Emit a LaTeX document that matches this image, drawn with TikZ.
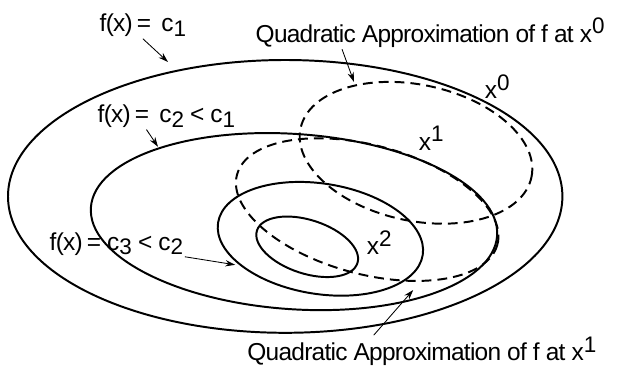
\documentclass[tikz,border=0pt]{standalone}
\usepackage{fontspec}
\setmainfont[LetterSpace=-3]{Liberation Sans}
\usetikzlibrary{arrows.meta}
\newcommand{\lo}[1]{\raisebox{-3pt}{\fontsize{16}{16}\selectfont #1}}
\newcommand{\hi}[1]{\raisebox{6pt}{\fontsize{16}{16}\selectfont #1}}
\tikzset{
  level/.style={line width=1.4pt},
  approx/.style={line width=1.4pt, dash pattern=on 7pt off 4.3pt},
  pointer/.style={-{Stealth[length=7pt,width=4.5pt]}, line width=0.6pt},
  lbl/.style={inner sep=1pt, font=\fontsize{17.4}{20}\selectfont}
}
\begin{document}
\begin{tikzpicture}
    \useasboundingbox (0,0) rectangle (15.45,9.2);
    % level sets of f
    \draw[level] (7.13,4.29) ellipse (6.93 and 3.41);
    \draw[level, shift={(7.35,3.66)}, rotate=-4] (0,0) ellipse (5.09 and 2.19);
    \draw[level, shift={(8.01,3.23)}, rotate=-9] (0,0) ellipse (2.59 and 1.38);
    \draw[level, shift={(7.68,3.03)}, rotate=-18] (0,0) ellipse (1.32 and 0.67);
    % quadratic approximations at x^0 and x^1
    \draw[approx, shift={(10.40,5.38)}, rotate=-12] (0,0) ellipse (2.95 and 1.70);
    \draw[approx, shift={(9.18,3.96)}, rotate=-15] (0,0) ellipse (3.37 and 1.61);
    % labels
    \node[lbl, anchor=base west] (c1) at (2.45,8.40) {f(x)\,=\ \,c\lo{1}};
    \node[lbl, anchor=base west] (c2) at (2.40,6.13) {f(x)\,=\ \,c\lo{2} < c\lo{1}};
    \node[lbl, anchor=base west] (c3) at (1.20,2.95) {f(x)\,=\ c\lo{3} < c\lo{2}};
    \node[lbl, anchor=base west] (q0) at (6.35,8.14) {Quadratic Approximation of f at x\hi{0}};
    \node[lbl, anchor=base east] (q1) at (14.95,0.18) {Quadratic Approximation of f at x\hi{1}};
    \node[lbl, anchor=base west] (x0) at (12.08,6.73) {x\hi{0}};
    \node[lbl, anchor=base west] (x1) at (10.43,5.45) {x\hi{1}};
    \node[lbl, anchor=base west] (x2) at (9.13,2.83) {x\hi{2}};
    % arrow tips
    \coordinate (t1) at (4.20,7.65);
    \coordinate (t2) at (3.95,5.53);
    \coordinate (t3) at (5.88,2.58);
    \coordinate (t4) at (8.85,7.15);
    \coordinate (t5) at (10.33,1.95);
    \draw[pointer] (c1.south) -- (t1);
    \draw[pointer] ([xshift=-0.5cm]c2.south) -- (t2);
    \draw[pointer] (c3.south east) -- (t3);
    \draw[pointer] ([xshift=2.2cm]q0.south west) -- (t4);
    \draw[pointer] ([xshift=3.2cm]q1.north west) -- (t5);
\end{tikzpicture}
\end{document}
